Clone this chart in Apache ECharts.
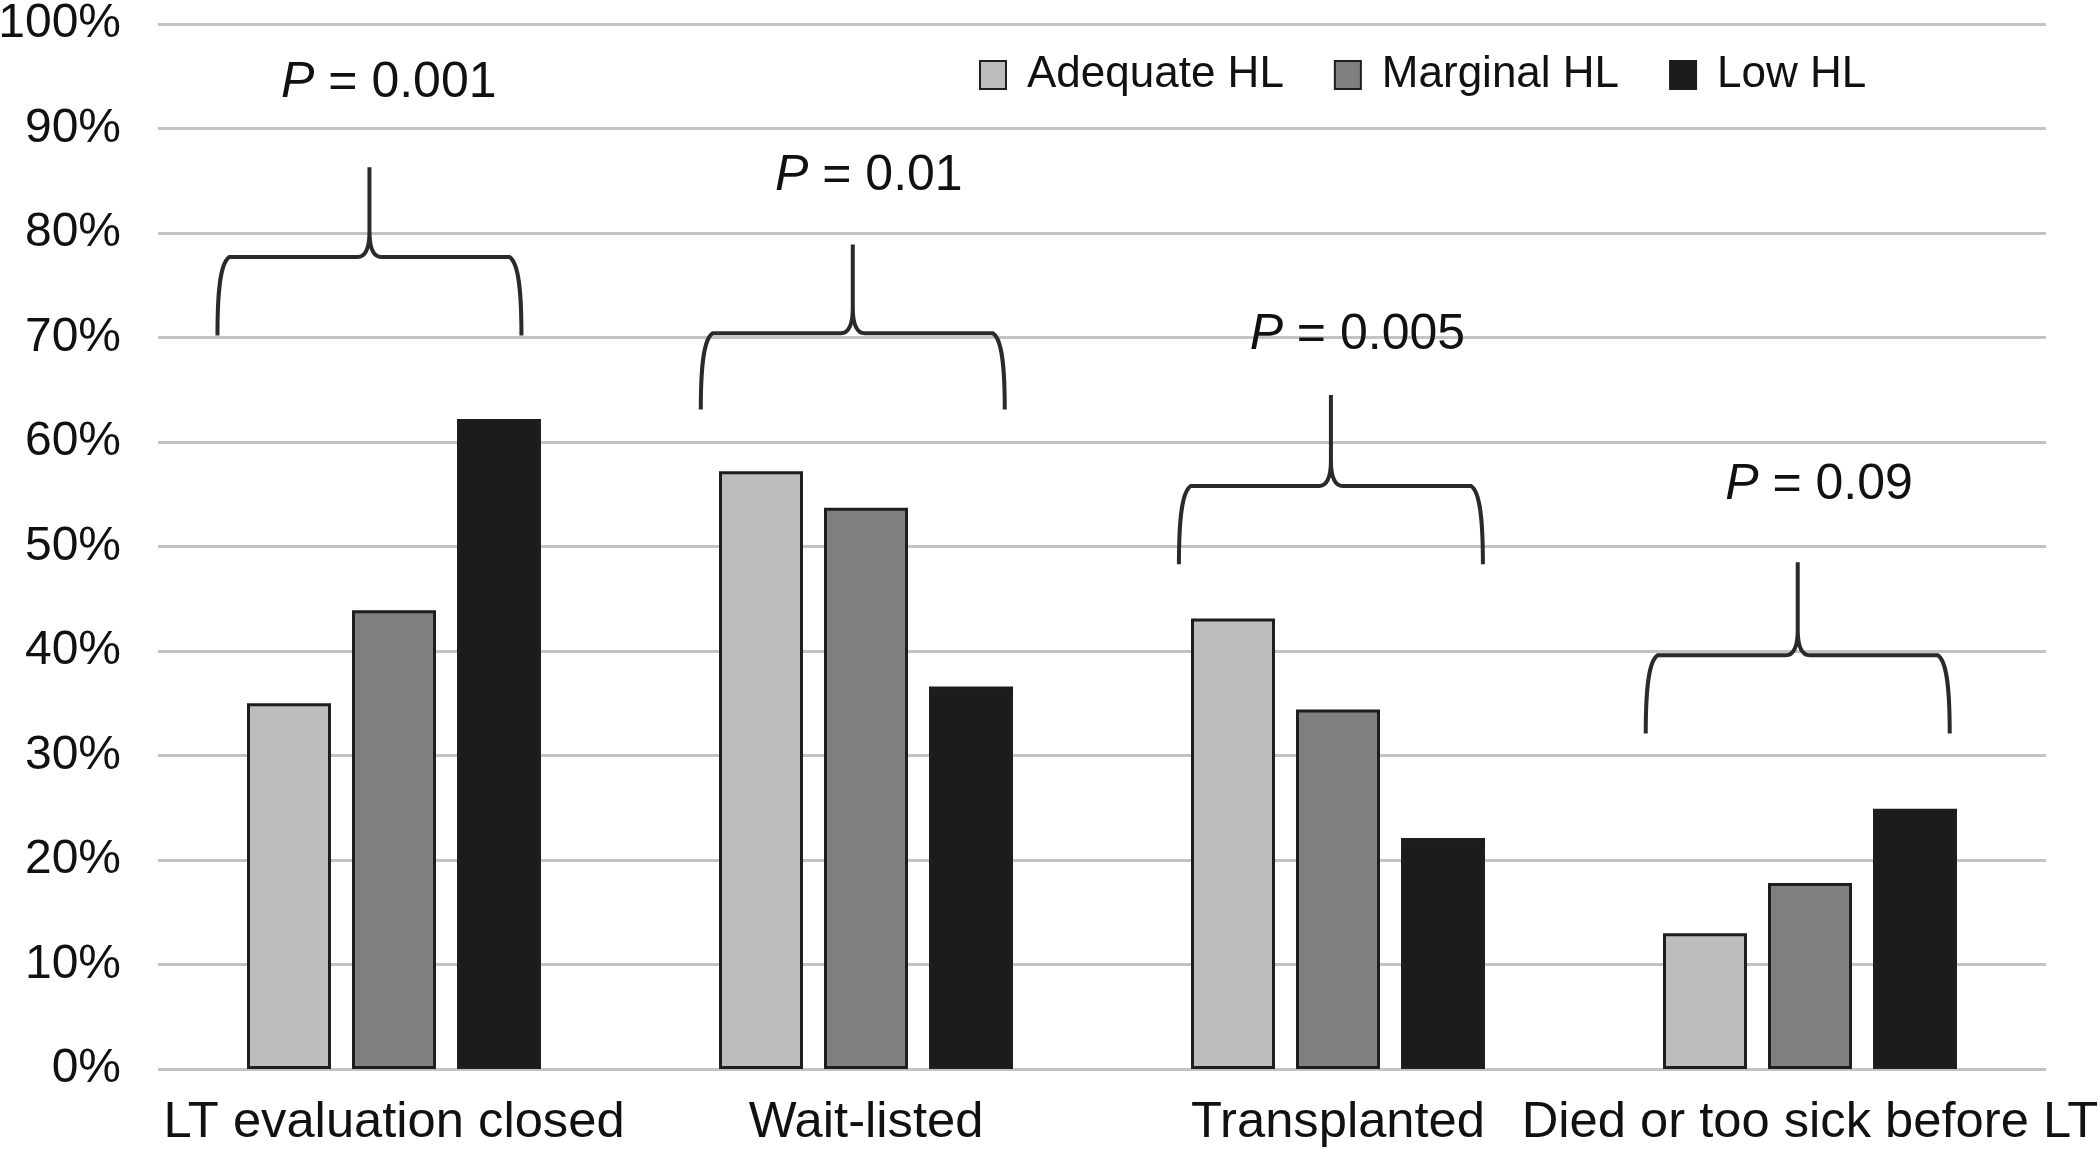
<!DOCTYPE html>
<html><head><meta charset="utf-8">
<script src="https://cdn.jsdelivr.net/npm/echarts@6/dist/echarts.min.js"></script>
<style>html,body{margin:0;padding:0;background:#fff}#c{width:2100px;height:1149px}</style>
</head><body><div id="c"></div>
<script>
// ---- data ----
const categories = ['LT evaluation closed', 'Wait-listed', 'Transplanted', 'Died or too sick before LT'];
const seriesNames = ['Adequate HL', 'Marginal HL', 'Low HL'];
const adequateHL = [35.0, 57.2, 43.1, 13.0];
const marginalHL = [43.9, 53.7, 34.4, 17.8];
const lowHL = [62.2, 36.6, 22.1, 24.9];
const pValues = ['0.001', '0.01', '0.005', '0.09'];
const braceTip = [70.2, 63.1, 48.3, 32.1];
const braceBar = [77.7, 70.4, 55.8, 39.6];
const bracePeak = [86.3, 78.9, 64.5, 48.5];
const pLabelY = [94.3, 85.4, 70.2, 55.9];

// ---- annotation layout (fractions of a category band) ----
const braceShift = [-0.052, -0.028, -0.015, -0.026];
const labelShift = [-0.011, 0.006, 0.041, 0.019];
const braceHalf = 0.322;

const FONT = "'Liberation Sans', Arial, Helvetica, sans-serif";
const colors = ['#bdbdbd', '#7f7f7f', '#1c1c1c'];
const seriesData = [adequateHL, marginalHL, lowHL];

function renderBrace(params, api) {
  const i = api.value(0);
  const bw = api.size([1, 0])[0];
  const c = api.coord([i, 0])[0];
  const cx = c + braceShift[i] * bw;
  const half = braceHalf * bw;
  const L = cx - half, R = cx + half;
  const tipY = api.coord([i, api.value(1)])[1];
  const barY = api.coord([i, api.value(2)])[1];
  const peakY = api.coord([i, api.value(3)])[1];
  const labY = api.coord([i, api.value(4)])[1];
  const h = tipY - barY;
  const d = 'M' + L + ' ' + tipY +
    ' C' + L + ' ' + (tipY - 0.5 * h) + ' ' + (L + 2) + ' ' + (barY + 6) + ' ' + (L + 12) + ' ' + barY +
    ' L' + (cx - 12) + ' ' + barY +
    ' C' + (cx - 4) + ' ' + barY + ' ' + cx + ' ' + (barY - 8) + ' ' + cx + ' ' + (barY - 26) +
    ' L' + cx + ' ' + peakY +
    ' M' + cx + ' ' + (barY - 26) +
    ' C' + cx + ' ' + (barY - 8) + ' ' + (cx + 4) + ' ' + barY + ' ' + (cx + 12) + ' ' + barY +
    ' L' + (R - 12) + ' ' + barY +
    ' C' + (R - 2) + ' ' + (barY + 6) + ' ' + R + ' ' + (tipY - 0.5 * h) + ' ' + R + ' ' + tipY;
  return {
    type: 'group',
    children: [
      { type: 'path', shape: { pathData: d }, style: { fill: 'none', stroke: '#2a2a2a', lineWidth: 4 } },
      {
        type: 'text', x: c + labelShift[i] * bw, y: labY,
        style: {
          text: '{i|P} = ' + pValues[i],
          rich: { i: { fontStyle: 'italic', fontSize: 50, fontFamily: FONT, fill: '#111' } },
          fontSize: 50, fontFamily: FONT, fill: '#111', align: 'center', verticalAlign: 'middle'
        }
      }
    ]
  };
}

const chart = echarts.init(document.getElementById('c'), null, { renderer: 'canvas' });
const option = {
  animation: false,
  backgroundColor: '#ffffff',
  grid: { left: 158, right: 54, top: 24, bottom: 80, containLabel: false, outerBoundsMode: 'none' },
  legend: {
    data: seriesNames,
    left: 979, top: 53, padding: 0,
    icon: 'rect', itemWidth: 26, itemHeight: 28, itemGap: 50,
    selectedMode: false,
    textStyle: { fontSize: 44, fontFamily: FONT, color: '#111', padding: [0, 0, 0, 16] }
  },
  xAxis: {
    type: 'category', data: categories,
    axisLine: { show: false }, axisTick: { show: false },
    axisLabel: { interval: 0, fontSize: 50.7, fontFamily: FONT, color: '#111', margin: 29 }
  },
  yAxis: {
    type: 'value', min: 0, max: 100, interval: 10,
    axisLine: { show: false }, axisTick: { show: false },
    axisLabel: { formatter: '{value}%', fontSize: 48, fontFamily: FONT, color: '#111', margin: 37 },
    splitLine: { lineStyle: { color: '#c3c3c3', width: 3 } }
  },
  series: seriesNames.map((n, k) => ({
    name: n, type: 'bar', data: seriesData[k],
    barWidth: 84, barGap: '25%',
    itemStyle: { color: colors[k], borderColor: '#1e1e1e', borderWidth: 3 }
  })).concat([{
    name: 'braces', type: 'custom', renderItem: renderBrace, clip: false, silent: true,
    data: categories.map((c, i) => [i, braceTip[i], braceBar[i], bracePeak[i], pLabelY[i]]),
    z: 5
  }])
};
chart.setOption(option);
</script></body></html>
